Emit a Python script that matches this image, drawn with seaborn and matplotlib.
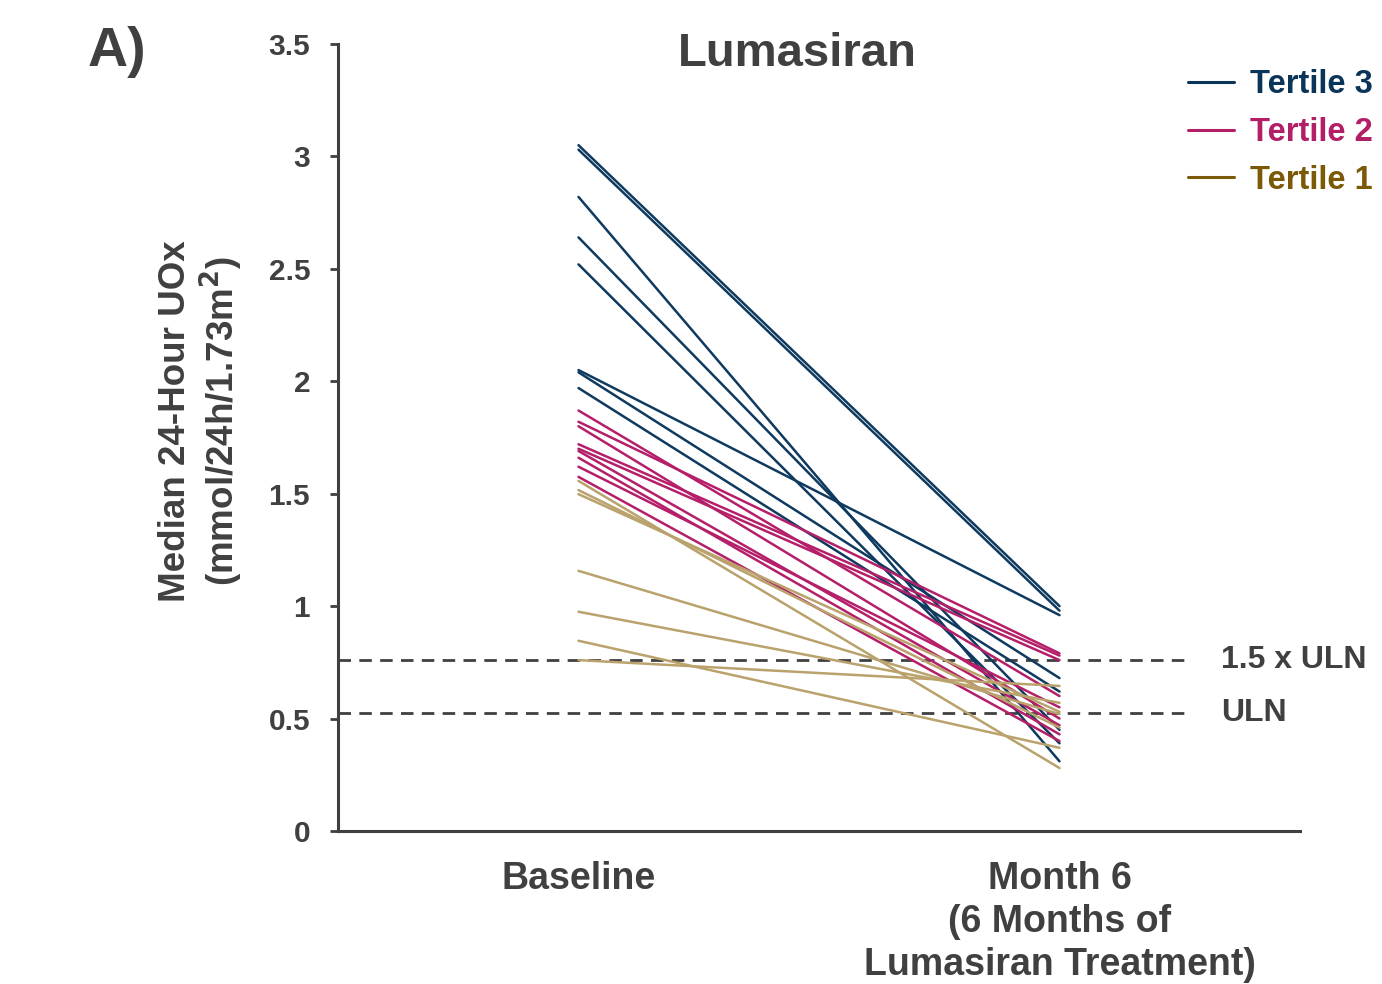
import numpy as np
import pandas as pd
import matplotlib
matplotlib.use("Agg")
import matplotlib.pyplot as plt
from matplotlib.lines import Line2D
import seaborn as sns

# ---------------- data ----------------
timepoints = ["Baseline", "Month 6\n(6 Months of\nLumasiran Treatment)"]
tertile3_baseline = [3.05, 3.03, 2.82, 2.64, 2.52, 2.05, 2.04, 1.97]
tertile3_month6   = [1.00, 0.98, 0.31, 0.45, 0.39, 0.96, 0.68, 0.62]
tertile2_baseline = [1.87, 1.82, 1.80, 1.72, 1.70, 1.69, 1.66, 1.62, 1.575]
tertile2_month6   = [0.60, 0.79, 0.50, 0.78, 0.76, 0.47, 0.43, 0.55, 0.40]
tertile1_baseline = [1.557, 1.516, 1.498, 1.157, 0.975, 0.846, 0.76]
tertile1_month6   = [0.28, 0.46, 0.53, 0.52, 0.57, 0.37, 0.645]
uln = 0.525
uln15 = 0.76
y_ticks = [0, 0.5, 1, 1.5, 2, 2.5, 3, 3.5]
y_tick_labels = ["0", "0.5", "1", "1.5", "2", "2.5", "3", "3.5"]

# ---------------- build long table ----------------
rows = []
pid = 0
for name, b, m in [("Tertile 3", tertile3_baseline, tertile3_month6),
                   ("Tertile 2", tertile2_baseline, tertile2_month6),
                   ("Tertile 1", tertile1_baseline, tertile1_month6)]:
    for bv, mv in zip(b, m):
        rows.append({"pid": pid, "tertile": name, "t": 0, "uox": bv})
        rows.append({"pid": pid, "tertile": name, "t": 1, "uox": mv})
        pid += 1
df = pd.DataFrame(rows)

line_colors = {"Tertile 3": "#0f3a5f", "Tertile 2": "#b51f69", "Tertile 1": "#b9a26c"}
legend_colors = {"Tertile 3": "#0b3558", "Tertile 2": "#b31f66", "Tertile 1": "#7a5a06"}
txt = "#404040"

sns.set_theme(style="white")
plt.rcParams["font.family"] = ["Liberation Sans", "DejaVu Sans"]
plt.rcParams["font.weight"] = "bold"

fig = plt.figure(figsize=(13.82, 9.84), dpi=100)
ax = fig.add_axes([338/1382, 1-831/984, (1300-338)/1382, (831-44)/984])

sns.lineplot(data=df, x="t", y="uox", hue="tertile", units="pid", estimator=None,
             palette=line_colors, lw=1.8, ax=ax, legend=False)

ax.set_xlim(-0.5, 1.5)
ax.set_ylim(0, 3.5)

# reference lines
for yv in (uln15, uln):
    ax.plot([-0.5, 1.27], [yv, yv], color=txt, lw=2.0, ls=(0, (4.5, 3.0)), zorder=1)
ax.text(1.335, uln15, "1.5 x ULN", color=txt, fontsize=23, fontweight="bold", va="center", ha="left")
ax.text(1.335, uln, "ULN", color=txt, fontsize=23, fontweight="bold", va="center", ha="left")

# axes styling
for s in ["top", "right"]:
    ax.spines[s].set_visible(False)
for s in ["left", "bottom"]:
    ax.spines[s].set_color(txt)
    ax.spines[s].set_linewidth(2.2)
ax.set_yticks(y_ticks)
ax.set_yticklabels(y_tick_labels)
ax.set_xticks([0, 1])
ax.set_xticklabels(timepoints, linespacing=1.25)
ax.tick_params(axis="y", left=True, length=6, width=2.0, color=txt, pad=14,
               labelsize=21.5, labelcolor=txt)
ax.tick_params(axis="x", bottom=False, length=0, pad=21.5, labelsize=27, labelcolor=txt)
for lab in ax.get_xticklabels() + ax.get_yticklabels():
    lab.set_fontweight("bold")
ax.set_xlabel("")
ax.set_ylabel("")

# y label
fig.text(176/1382, 1-421/984, "Median 24-Hour UOx", rotation=90, ha="center", va="center",
         fontsize=26.5, fontweight="bold", color=txt)
fig.text(221/1382, 1-421/984, "(mmol/24h/1.73m$^\\mathbf{2}$)", rotation=90, ha="center", va="center",
         fontsize=26.5, fontweight="bold", color=txt)

# title and panel letter
fig.text(797/1382, 1-54/984, "Lumasiran", ha="center", va="center", fontsize=34,
         fontweight="bold", color=txt)
fig.text(88/1382, 1-52/984, "A)", ha="left", va="center", fontsize=40,
         fontweight="bold", color=txt)

# legend
order = ["Tertile 3", "Tertile 2", "Tertile 1"]
handles = [Line2D([0], [0], color=legend_colors[k], lw=2.2) for k in order]
leg = fig.legend(handles, order, loc="upper right", bbox_to_anchor=(1402/1382, 1-40/984),
                 frameon=False, handlelength=1.4, handletextpad=0.5,
                 labelspacing=0.51, prop={"weight": "bold", "size": 23.5})
for t, k in zip(leg.get_texts(), order):
    t.set_color(legend_colors[k])

fig.savefig("out.png", dpi=100)
